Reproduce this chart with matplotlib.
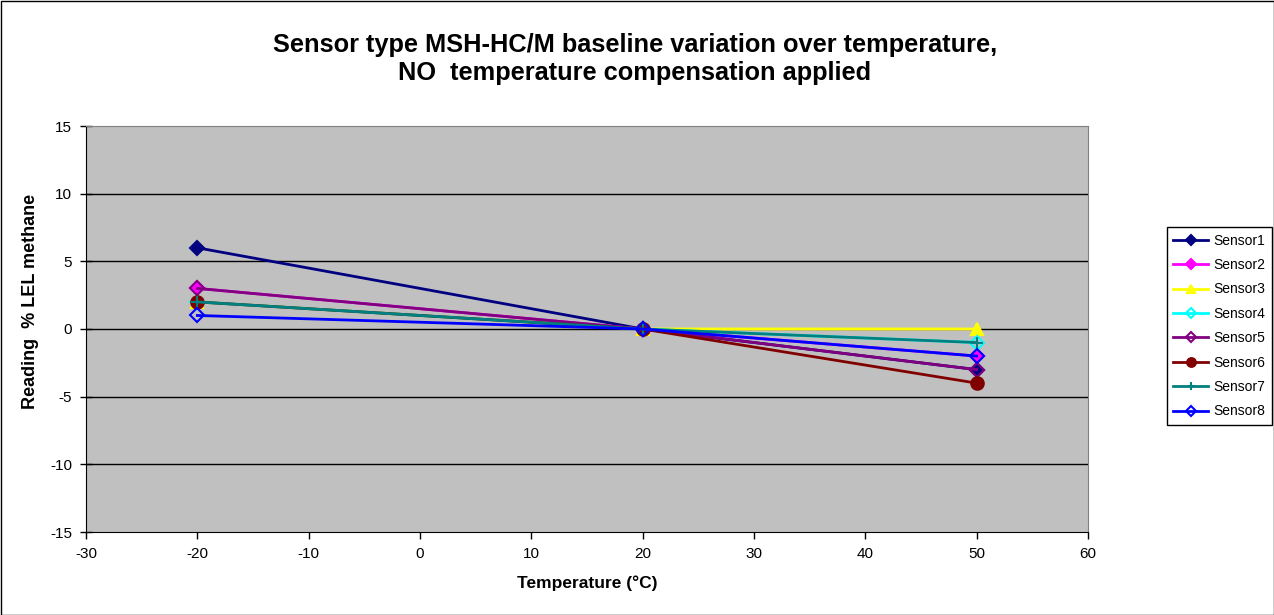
import matplotlib
matplotlib.use("Agg")
import matplotlib.pyplot as plt
from matplotlib.patches import Rectangle

plt.rcParams['font.family'] = ['Liberation Sans', 'DejaVu Sans']
plt.rcParams['axes.unicode_minus'] = False

temperatur = [-20, 20, 50]
namen = ["Sensor1", "Sensor2", "Sensor3", "Sensor4", "Sensor5", "Sensor6", "Sensor7", "Sensor8"]
sensor1 = [6, 0, -3]
sensor2 = [3, 0, -2]
sensor3 = [2, 0, 0]
sensor4 = [2, 0, -1]
sensor5 = [3, 0, -3]
sensor6 = [2, 0, -4]
sensor7 = [2, 0, -1]
sensor8 = [1, 0, -2]
werte = [sensor1, sensor2, sensor3, sensor4, sensor5, sensor6, sensor7, sensor8]

# Farbe, Marker, gefuellt?, Markergroesse
stile = [("#000080", "D", True, 7),
         ("#FF00FF", "D", True, 7),
         ("#FFFF00", "^", True, 9),
         ("#00FFFF", "D", False, 7),
         ("#800080", "D", False, 7),
         ("#800000", "o", True, 9),
         ("#008080", "+", True, 9),
         ("#0000FF", "D", False, 7)]

fig = plt.figure(figsize=(12.74, 6.15), dpi=100)
ax = fig.add_axes([86/1274, 1-532/615, (1088-86)/1274, (532-126)/615])
ax.set_facecolor("#C0C0C0")

for i in range(len(werte)):
    farbe, m, voll, ms = stile[i]
    ax.plot(temperatur, werte[i], color=farbe, lw=2, marker=m, ms=ms,
            markerfacecolor=farbe if voll else "none", markeredgecolor=farbe,
            markeredgewidth=1.5, label=namen[i], zorder=3)

ax.set_xlim(-30, 60)
ax.set_ylim(-15, 15)
ax.set_xticks(range(-30, 61, 10))
ax.set_yticks(range(-15, 16, 5))
for y in range(-10, 15, 5):
    ax.axhline(y, color="black", lw=1, zorder=1)
ax.spines["top"].set_color("#808080")
ax.spines["right"].set_color("#808080")
ax.spines["left"].set_color("black")
ax.spines["bottom"].set_color("black")
ax.tick_params(axis="x", direction="out", length=5, color="black", labelsize=11, width=1, pad=6)
ax.tick_params(axis="y", direction="inout", length=8, color="black", labelsize=11, width=1, pad=6)

ax.set_xlabel("Temperature (°C)", fontsize=12.5, fontweight="bold", labelpad=10)
ax.set_ylabel("Reading  % LEL methane", fontsize=13, fontweight="bold")
ax.yaxis.set_label_coords((39-86)/1002, (532-301)/406)

fig.text(635/1274, 1-45/615, "Sensor type MSH-HC/M baseline variation over temperature,",
         ha="center", va="center", fontsize=18.3, fontweight="bold")
fig.text(635/1274, 1-73/615, "NO  temperature compensation applied",
         ha="center", va="center", fontsize=18.3, fontweight="bold")

leg = ax.legend(loc="center left", bbox_to_anchor=(1167/1274, 1-326/615),
                bbox_transform=fig.transFigure, fontsize=10, frameon=True,
                fancybox=False, edgecolor="black", framealpha=1,
                handlelength=2.5, handletextpad=0.4, labelspacing=0.75,
                borderpad=0.45, borderaxespad=0, markerscale=0.7)
leg.get_frame().set_linewidth(1)

fig.patches.append(Rectangle((0.5/1274, 0.5/615), 1-1/1274, 1-1/615, transform=fig.transFigure,
                             fill=False, edgecolor="black", lw=1))

fig.savefig("out.png", dpi=100)
